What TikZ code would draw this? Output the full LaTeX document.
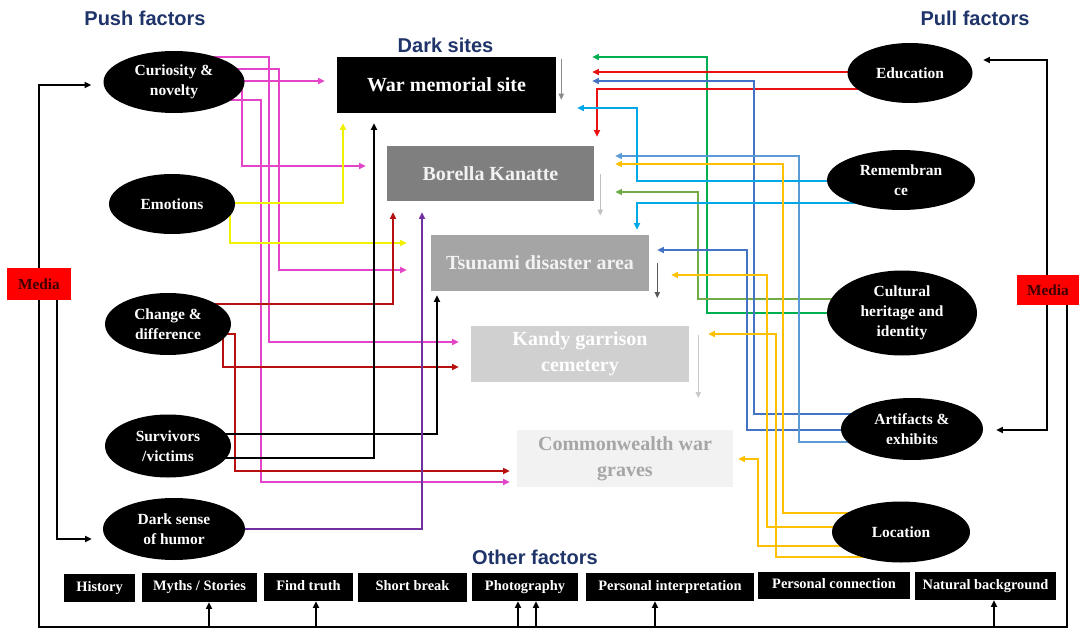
\documentclass[tikz,border=0pt]{standalone}
\usepackage{fontspec}
\setmainfont{Liberation Serif}
\newfontfamily\hdrfont{Liberation Sans}
\usetikzlibrary{shapes.geometric,arrows.meta,backgrounds,calc}
\definecolor{navy}{HTML}{1F3468}
\definecolor{cmag}{HTML}{E444C8}
\definecolor{cyel}{HTML}{F0F000}
\definecolor{cdred}{HTML}{B80F0F}
\definecolor{cpur}{HTML}{7030A0}
\definecolor{cgrn}{HTML}{00B050}
\definecolor{colv}{HTML}{70AD47}
\definecolor{cred}{HTML}{E81010}
\definecolor{cblu}{HTML}{4472C4}
\definecolor{clbl}{HTML}{5B9BD5}
\definecolor{ccyn}{HTML}{00A8E8}
\definecolor{corg}{HTML}{FFC000}
\definecolor{mediared}{HTML}{FF0000}
\definecolor{mediatxt}{HTML}{3D0000}
\definecolor{sgA}{HTML}{7F7F7F}
\definecolor{sgB}{HTML}{A5A5A5}
\definecolor{sgC}{HTML}{D0D0D0}
\definecolor{sgD}{HTML}{F2F2F2}
\definecolor{cwtxt}{HTML}{A6A6A6}
\definecolor{gA}{HTML}{8C8C8C}
\definecolor{gB}{HTML}{BFBFBF}
\definecolor{gC}{HTML}{595959}
\definecolor{gD}{HTML}{C9C9C9}
\tikzset{
  bx/.style 2 args={minimum width=#1*0.75pt, minimum height=#2*0.75pt},
  ell/.style 2 args={ellipse, fill=black, text=white, bx={#1}{#2}, inner sep=0pt,
    align=center, font=\bfseries\fontsize{11.6}{15}\selectfont},
  site/.style={rectangle, inner sep=0pt, align=center,
    font=\bfseries\fontsize{15}{19.5}\selectfont},
  fac/.style={rectangle, fill=black, text=white, inner sep=0pt,
    text height=7.6pt, text depth=2.4pt,
    font=\bfseries\fontsize{10.8}{12}\selectfont},
  media/.style={rectangle, fill=mediared, text=mediatxt, inner sep=0pt,
    font=\bfseries\fontsize{11.5}{13}\selectfont},
  hdr/.style={text=navy, inner sep=0pt, font=\hdrfont\bfseries\fontsize{15}{18}\selectfont},
  con/.style={line width=1.2pt, -{Triangle[length=5pt,width=4.5pt]}},
  plain/.style={line width=1.2pt},
  gap/.style={shorten >=#1*0.75pt},
  gcon/.style={line width=0.8pt, -{Triangle[length=4.5pt,width=4pt]}}
}
\begin{document}
\begin{tikzpicture}[x=0.75pt,y=-0.75pt]
\useasboundingbox (0,0) rectangle (1079,628);
% headers
\node[hdr] (hpush) at (145,18) {Push factors};
\node[hdr] (hdark) at (445.5,45) {Dark sites};
\node[hdr] (hpull) at (975,18) {Pull factors};
\node[hdr] (hoth) at (535,557) {Other factors};
% push factors
\node[ell={141}{62}] (cur) at (174,82) {Curiosity \&\\novelty};
\node[ell={126}{60}] (emo) at (172,204) {Emotions};
\node[ell={126}{62}] (chg) at (168,324) {Change \&\\difference};
\node[ell={126}{63}] (sur) at (168,446) {Survivors\\/victims};
\node[ell={142}{62}] (dsh) at (174,529) {Dark sense\\of humor};
% pull factors
\node[ell={125}{60}] (edu) at (910,73) {Education};
\node[ell={148}{60}] (rem) at (901,180) {Remembran\\ce};
\node[ell={150}{85}] (cul) at (902,313) {Cultural\\heritage and\\identity};
\node[ell={142}{62}] (art) at (912,429) {Artifacts \&\\exhibits};
\node[ell={138}{61}] (loc) at (901,532) {Location};
% dark sites
\node[site, fill=black, text=white, bx={219}{56}] (wm) at (446.5,85) {War memorial site};
\node[site, fill=sgA, text=sgD, bx={207}{55}] (bk) at (490.5,173.5) {Borella Kanatte};
\node[site, fill=sgB, text=sgD, bx={218}{56}] (ts) at (540,263) {Tsunami disaster area};
\node[site, fill=sgC, text=white, bx={218}{56}] (kg) at (580,354) {Kandy garrison\\cemetery};
\node[site, fill=sgD, text=cwtxt, bx={216}{57}] (cw) at (625,458.5) {Commonwealth war\\graves};
% media
\node[media, bx={64}{32}] (mL) at (39,284) {Media};
\node[media, bx={62}{30}] (mR) at (1048,290) {Media};
% other factors
\node[fac, bx={71}{28}] (his) at (99.5,588) {History};
\node[fac, bx={115}{29}] (myt) at (199.5,587.5) {Myths / Stories};
\node[fac, bx={89}{28}] (fnd) at (308.5,587) {Find truth};
\node[fac, bx={109}{29}] (sbr) at (412.5,587.5) {Short break};
\node[fac, bx={106}{28}] (pho) at (525,587) {Photography};
\node[fac, bx={168}{28}] (pin) at (670,587) {Personal interpretation};
\node[fac, bx={152}{27}] (pcn) at (834,585.5) {Personal connection};
\node[fac, bx={141}{28}] (nbg) at (985.5,586) {Natural background};

\begin{pgfonlayer}{background}
\fill[white] (0,0) rectangle (1079,628);
% magenta: curiosity
\draw[con, cmag, gap=12] (cur.center|-0,81) -- (wm.west|-0,81);
\draw[con, cmag, gap=21] (cur.center|-0,88) -| (242,166) -- (bk.west|-0,166);
\draw[con, cmag, gap=24] (cur.center|-0,69) -| (279,270) -- (ts.west|-0,270);
\draw[con, cmag, gap=12] (cur.center|-0,57) -| (269,342) -- (kg.west|-0,342);
\draw[con, cmag, gap=7] (cur.center|-0,100) -| (261,482) -- (cw.west|-0,482);
% yellow: emotions
\draw[con, cyel, gap=10] (emo.center|-0,203) -| (wm.south -| 343,0);
\draw[con, cyel, gap=24] (emo.center -| 230,0) -- (230,243) -- (ts.west|-0,243);
% dark red: change
\draw[con, cdred, gap=11] (chg.center|-0,304) -| (bk.south -| 393,0);
\draw[con, cdred, gap=12] (chg.center|-0,334) -| (223,367) -- (kg.west|-0,367);
\draw[con, cdred, gap=7] (chg.center|-0,334) -| (235,471) -- (cw.west|-0,471);
% black: survivors
\draw[con, black, gap=4] (sur.center|-0,434) -| (ts.south -| 437,0);
\draw[con, black, gap=10] (sur.center|-0,458) -| (wm.south -| 374,0);
% purple: dark humor
\draw[con, cpur, gap=11] (dsh.center|-0,529) -| (bk.south -| 422,0);
% green: cultural heritage
\draw[con, cgrn, gap=36] (cul.center|-0,313) -| (707,57) -- (wm.east|-0,57);
\draw[con, colv, gap=21] (cul.center|-0,299) -| (698,192) -- (bk.east|-0,192);
% red: education
\draw[con, cred, gap=36] (edu.center|-0,72) -- (wm.east|-0,72);
\draw[con, cred, gap=9] (edu.center|-0,89) -| (bk.north -| 597,0);
% blue: artifacts
\draw[con, cblu, gap=36] (art.center|-0,414) -| (754,81) -- (wm.east|-0,81);
\draw[con, cblu, gap=8] (art.center|-0,430) -| (747,250) -- (ts.east|-0,250);
\draw[con, clbl, gap=21] (art.center|-0,442) -| (799,156) -- (bk.east|-0,156);
% cyan: remembrance
\draw[con, ccyn, gap=21] (rem.center|-0,181) -| (637,108) -- (wm.east|-0,108);
\draw[con, ccyn, gap=5] (rem.center|-0,203) -| (ts.north -| 637,0);
% orange: location
\draw[con, corg, gap=21] (loc.center|-0,513) -| (783,164) -- (bk.east|-0,164);
\draw[con, corg, gap=22] (loc.center|-0,527) -| (767,275) -- (ts.east|-0,275);
\draw[con, corg, gap=19] (loc.center|-0,557) -| (776,334) -- (kg.east|-0,334);
\draw[con, corg, gap=5] (loc.center|-0,546) -| (758,459) -- (cw.east|-0,459);
% media connectors
\draw[con, black, gap=12] (mL.north) |- (cur.west|-0,85);
\draw[con, black, gap=11] (mL.south -| 57,0) |- (dsh.west|-0,539);
\draw[plain, black] (mL.south) |- (1067,627) -- (mR.south -| 1067,0);
\draw[con, black, gap=10.5] (mR.north -| 1047,0) |- (edu.east|-0,60);
\draw[con, black, gap=13] (mR.south -| 1047,0) |- (art.east|-0,430);
% other factors arrows
\draw[con, black] (209,627) -- (myt.south -| 209,0);
\draw[con, black] (316,627) -- (fnd.south -| 316,0);
\draw[con, black] (518,627) -- (pho.south -| 518,0);
\draw[con, black] (536,627) -- (pho.south -| 536,0);
\draw[con, black] (655,627) -- (pin.south -| 655,0);
\draw[con, black] (994,627) -- (nbg.south -| 994,0);
% small gray arrows
\draw[gcon, gA] ($(wm.north east)+(5,2)$) -- ++(0,41);
\draw[gcon, gB] ($(bk.east)+(6,0)$) -- ++(0,42);
\draw[gcon, gC] ($(ts.east)+(8,0)$) -- ++(0,35);
\draw[gcon, gD] ($(kg.east)+(9,-19)$) -- ++(0,63);
\end{pgfonlayer}
\end{tikzpicture}
\end{document}
